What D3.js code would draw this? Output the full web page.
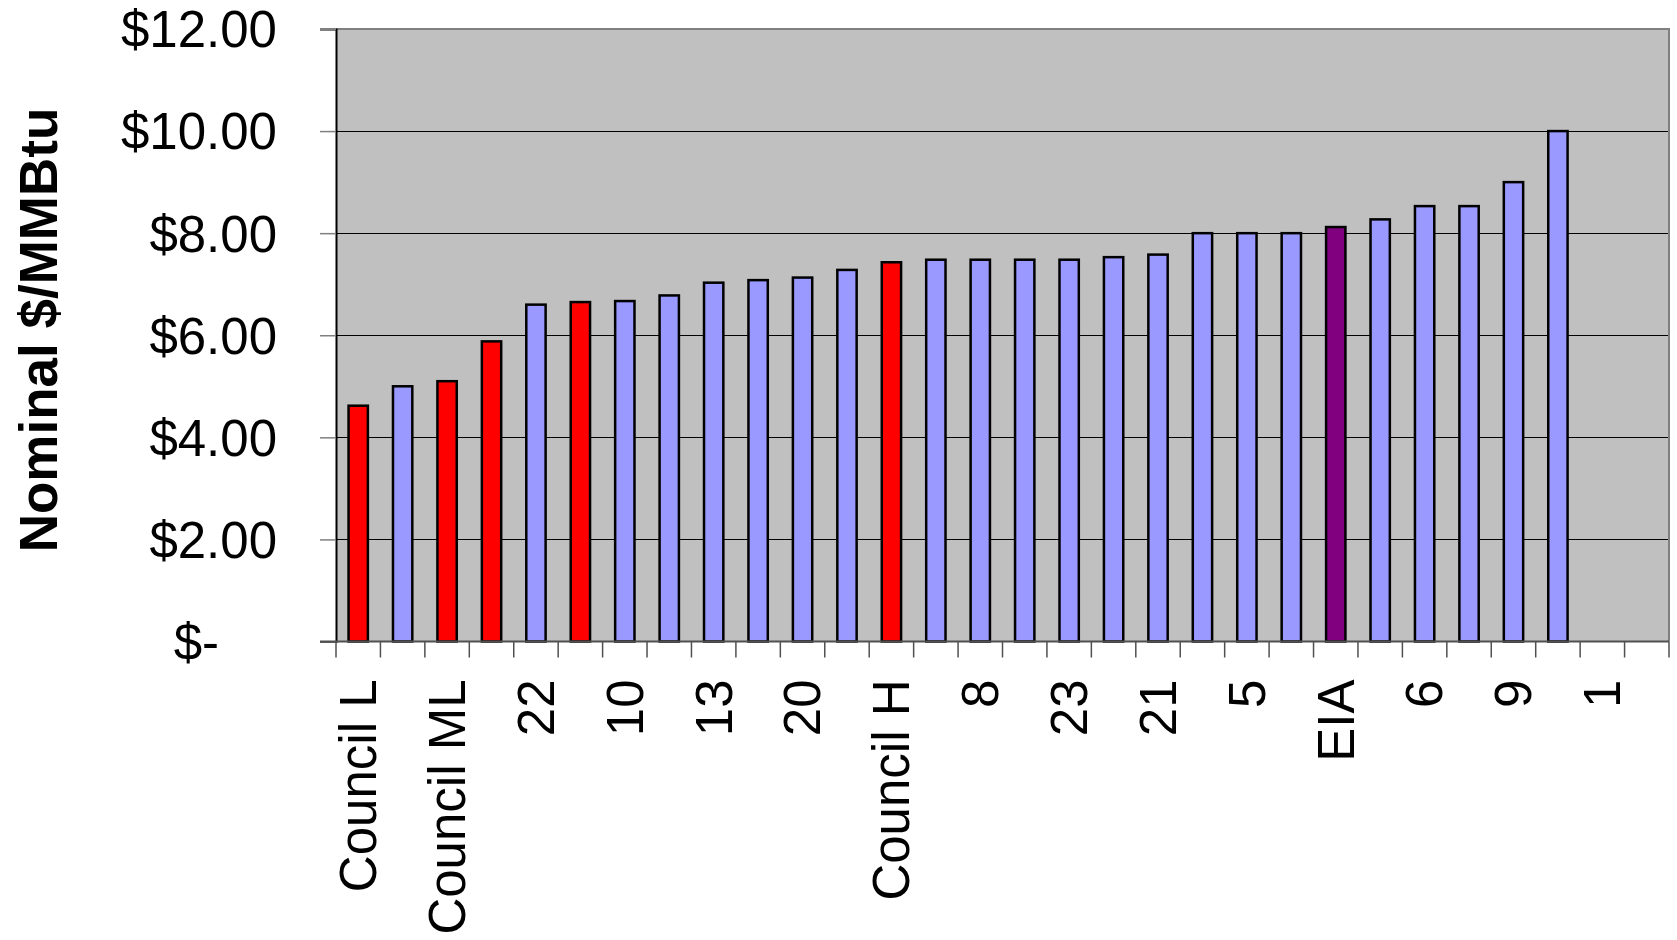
<!DOCTYPE html>
<html>
<head>
<meta charset="utf-8">
<script src="https://cdn.jsdelivr.net/npm/d3@7"></script>
<style>
  html, body { margin: 0; padding: 0; background: #ffffff; }
  svg { display: block; }
  text { font-family: Arial, "Liberation Sans", sans-serif; fill: #000; }
</style>
</head>
<body>
<svg id="chart" width="1677" height="940"></svg>
<script>
// Forecast names along the x axis (blank = label skipped for space)
const categories = ["Council L", "", "Council ML", "", "22", "", "10", "", "13", "",
                    "20", "", "Council H", "", "8", "", "23", "", "21", "",
                    "5", "", "EIA", "", "6", "", "9", "", "1", ""];
// Gas price forecast, nominal $/MMBtu (null = no value)
const prices = [4.62, 5.00, 5.10, 5.88, 6.60, 6.65, 6.67, 6.78, 7.03, 7.08,
                7.13, 7.28, 7.43, 7.48, 7.48, 7.48, 7.48, 7.53, 7.58, 8.00,
                8.00, 8.00, 8.12, 8.27, 8.53, 8.53, 9.00, 10.00, null, null];
// Source of each forecast
const sources = ["council", "other", "council", "council", "other", "council", "other", "other", "other", "other",
                 "other", "other", "council", "other", "other", "other", "other", "other", "other", "other",
                 "other", "other", "eia", "other", "other", "other", "other", "other", "other", "other"];
const yTicks = [0, 2, 4, 6, 8, 10, 12];

const colors = { council: "#FF0000", other: "#9999FF", eia: "#800080" };

const margin = { left: 336, top: 29, right: 8, bottom: 298.5 };
const W = 1677, H = 940;
const innerW = W - margin.left - margin.right;
const innerH = H - margin.top - margin.bottom;

const svg = d3.select("#chart");
const g = svg.append("g").attr("transform", `translate(${margin.left},${margin.top})`);

const idx = d3.range(categories.length);
const x = d3.scaleBand().domain(idx).range([0, innerW]).paddingInner(0.565).paddingOuter(0.2825);
const xb = d3.scaleBand().domain(idx).range([0, innerW]);
const y = d3.scaleLinear().domain([0, 12]).range([innerH, 0]);

// plot background
g.append("rect").attr("width", innerW).attr("height", innerH).attr("fill", "#C0C0C0");

// horizontal gridlines
g.append("g").selectAll("line").data(yTicks.filter(t => t > 0 && t < 12)).join("line")
  .attr("x1", 0).attr("x2", innerW)
  .attr("y1", d => Math.round(y(d)) + 0.5).attr("y2", d => Math.round(y(d)) + 0.5)
  .attr("stroke", "#000").attr("stroke-width", 1);

// plot border (top and right)
g.append("path")
  .attr("d", `M0,${y(12)}H${innerW}V${innerH}`)
  .attr("fill", "none").attr("stroke", "#808080").attr("stroke-width", 2);

// bars
g.append("g").selectAll("rect").data(idx.filter(i => prices[i] != null)).join("rect")
  .attr("x", i => x(i))
  .attr("width", x.bandwidth())
  .attr("y", i => y(prices[i]))
  .attr("height", i => y(0) - y(prices[i]))
  .attr("fill", i => colors[sources[i]])
  .attr("stroke", "#000").attr("stroke-width", 2.5);

// y axis
const yAxis = g.append("g")
  .call(d3.axisLeft(y).tickValues(yTicks).tickSize(16).tickPadding(43)
    .tickFormat(d => d === 0 ? "$-" : "$" + d3.format(".2f")(d)));
yAxis.select(".domain").attr("stroke", "#000").attr("stroke-width", 2);
yAxis.selectAll(".tick line").attr("stroke", "#808080").attr("stroke-width", 1.5);
yAxis.selectAll(".tick text").attr("font-size", 51).attr("font-family", "Arial, 'Liberation Sans', sans-serif")
  .attr("dy", "0.35em")
  .attr("dx", d => d === 0 ? -58 : 0);

// x axis line and boundary ticks
const xAxis = g.append("g").attr("transform", `translate(0,${innerH})`);
xAxis.append("line").attr("x1", -16).attr("x2", innerW).attr("stroke", "#505050").attr("stroke-width", 2);
const bounds = idx.map(i => xb(i)).concat([innerW]);
xAxis.selectAll("line.tk").data(bounds).join("line").attr("class", "tk")
  .attr("x1", d => d).attr("x2", d => d).attr("y1", 0).attr("y2", 16)
  .attr("stroke", "#505050").attr("stroke-width", 1.5);

// category labels, rotated
xAxis.append("g")
  .call(d3.axisBottom(xb).tickSize(0).tickFormat(i => categories[i]))
  .call(a => a.select(".domain").remove())
  .selectAll(".tick text")
  .attr("font-size", 51).attr("font-family", "Arial, 'Liberation Sans', sans-serif")
  .attr("text-anchor", "end")
  .attr("transform", "rotate(-90)")
  .attr("x", -38).attr("y", 0).attr("dy", "0.35em");

// y axis title
svg.append("text")
  .attr("transform", "translate(38,330) rotate(-90)")
  .attr("text-anchor", "middle").attr("dy", "0.35em")
  .attr("font-size", 53).attr("font-weight", "bold")
  .text("Nominal $/MMBtu");
</script>
</body>
</html>
